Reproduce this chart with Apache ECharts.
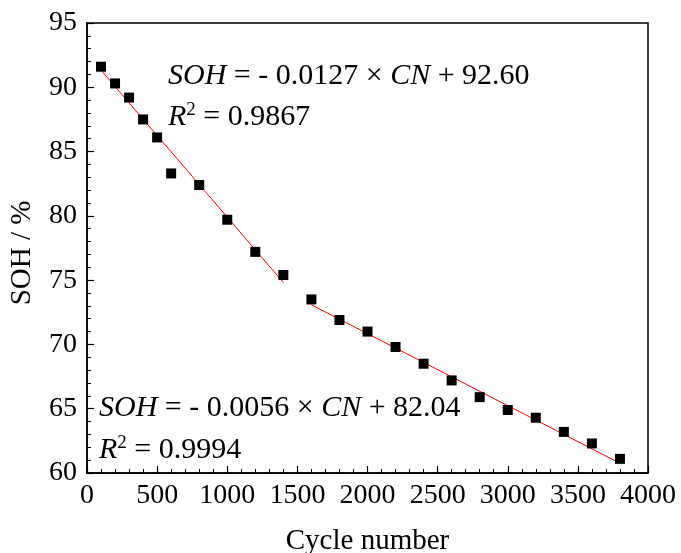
<!DOCTYPE html>
<html>
<head>
<meta charset="utf-8">
<script src="https://cdn.jsdelivr.net/npm/echarts@6/dist/echarts.min.js"></script>
<style>
html, body { margin: 0; padding: 0; background: #fff; }
#chart { width: 681px; height: 553px; }
</style>
</head>
<body>
<div id="chart"></div>
<script>
// measured points
var cycles = [100, 200, 300, 400, 500, 600, 800, 1000, 1200, 1400, 1600, 1800,
    2000, 2200, 2400, 2600, 2800, 3000, 3200, 3400, 3600, 3800];
var soh = [91.6, 90.3, 89.2, 87.5, 86.1, 83.3, 82.4, 79.7, 77.2, 75.4, 73.5, 71.9,
    71.0, 69.8, 68.5, 67.2, 65.9, 64.9, 64.3, 63.2, 62.3, 61.1];

// fitted lines (end points)
var fit1X = [100, 1400];
var fit1Y = [91.33, 74.82];
var fit2X = [1600, 3800];
var fit2Y = [73.08, 60.76];

var font = "'Liberation Serif', 'Times New Roman', serif";

function pairs(xs, ys) {
    var out = [];
    for (var i = 0; i < xs.length; i++) out.push([xs[i], ys[i]]);
    return out;
}

var chart = echarts.init(document.getElementById('chart'), null, { renderer: 'canvas' });

var richText = {
    i: { fontFamily: font, fontSize: 30, fontStyle: 'italic', color: '#000' },
    n: { fontFamily: font, fontSize: 30, color: '#000' },
    sup: { fontFamily: font, fontSize: 19, color: '#000', verticalAlign: 'top', padding: [0, 0, 14, 0] }
};

var option = {
    animation: false,
    backgroundColor: '#fff',
    grid: {
        left: 87, right: 33, top: 23, bottom: 80,
        outerBoundsMode: 'none',
        containLabel: false,
        show: true, borderColor: '#000', borderWidth: 1.5, backgroundColor: 'transparent'
    },
    xAxis: {
        type: 'value',
        min: 0, max: 4000, interval: 500,
        name: 'Cycle number',
        nameLocation: 'middle',
        nameGap: 54,
        nameTextStyle: { fontFamily: font, fontSize: 29, color: '#000' },
        axisLine: { lineStyle: { color: '#000', width: 1.5 } },
        axisTick: { inside: true, length: 7, lineStyle: { color: '#000', width: 1.2 } },
        minorTick: { show: true, splitNumber: 5, length: 4, lineStyle: { color: '#000', width: 1 } },
        axisLabel: {
            fontFamily: font, fontSize: 28, color: '#000', margin: 9,
            showMaxLabel: true, showMinLabel: true,
            formatter: function (v) { return String(v); }
        },
        splitLine: { show: false }
    },
    yAxis: {
        type: 'value',
        min: 60, max: 95, interval: 5,
        name: 'SOH / %',
        nameLocation: 'middle',
        nameGap: 50,
        nameTextStyle: { fontFamily: font, fontSize: 29, color: '#000', padding: [0, 10, 0, 0] },
        axisLine: { show: true, lineStyle: { color: '#000', width: 1.5 } },
        axisTick: { show: true, inside: true, length: 7, lineStyle: { color: '#000', width: 1.2 } },
        minorTick: { show: true, splitNumber: 5, length: 4, lineStyle: { color: '#000', width: 1 } },
        axisLabel: { fontFamily: font, fontSize: 28, color: '#000', margin: 10 },
        splitLine: { show: false }
    },
    series: [
        {
            type: 'line',
            data: pairs(fit1X, fit1Y),
            symbol: 'none',
            lineStyle: { color: '#ff0000', width: 1 },
            z: 2
        },
        {
            type: 'line',
            data: pairs(fit2X, fit2Y),
            symbol: 'none',
            lineStyle: { color: '#ff0000', width: 1 },
            z: 2
        },
        {
            type: 'scatter',
            data: pairs(cycles, soh),
            symbol: 'rect',
            symbolSize: 10,
            itemStyle: { color: '#000', opacity: 1 },
            z: 3
        }
    ],
    graphic: [
        {
            type: 'text', left: 168, top: 61,
            style: { text: '{i|SOH}{n| = - 0.0127 × }{i|CN}{n| + 92.60}', rich: richText }
        },
        {
            type: 'text', left: 168, top: 101,
            style: { text: '{i|R}{sup|2}{n| = 0.9867}', rich: richText }
        },
        {
            type: 'text', left: 99, top: 393,
            style: { text: '{i|SOH}{n| = - 0.0056 × }{i|CN}{n| + 82.04}', rich: richText }
        },
        {
            type: 'text', left: 99, top: 434,
            style: { text: '{i|R}{sup|2}{n| = 0.9994}', rich: richText }
        }
    ]
};

chart.setOption(option);
window.addEventListener('resize', chart.resize);
</script>
</body>
</html>
